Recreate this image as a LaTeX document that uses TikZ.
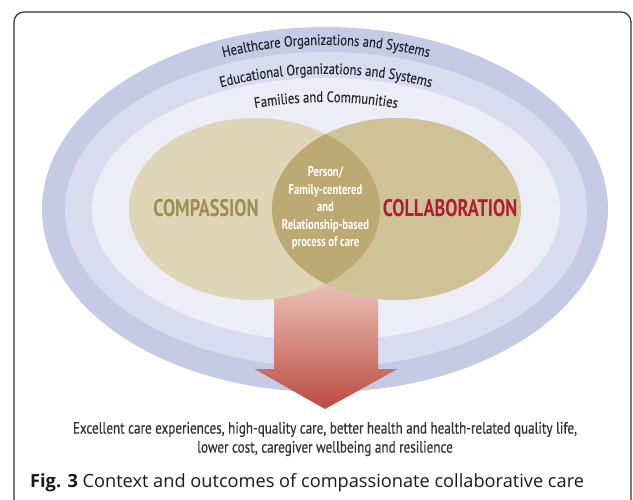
\documentclass[tikz,border=0pt]{standalone}
\usepackage{fontspec}
\setmainfont{Open Sans}
\newfontfamily\condfont[FakeStretch=0.76]{PT Sans}
\newfontfamily\ringfont[FakeStretch=0.84, FakeBold=0.4]{PT Sans}
\newfontfamily\outfont[FakeStretch=0.8, FakeBold=0.5]{PT Sans}
\usetikzlibrary{decorations.text}
\definecolor{bandouter}{RGB}{198,203,229}
\definecolor{bandmid}{RGB}{217,220,239}
\definecolor{bandinner}{RGB}{236,237,247}
\definecolor{compfill}{RGB}{223,214,183}
\definecolor{collfill}{RGB}{208,194,151}
\definecolor{lensfill}{RGB}{189,169,115}
\definecolor{comptext}{RGB}{160,140,79}
\definecolor{colltext}{RGB}{178,27,52}
\definecolor{arrowtop}{RGB}{242,214,204}
\definecolor{arrowbottom}{RGB}{188,74,64}
\definecolor{ringtext}{RGB}{40,40,52}
\definecolor{outtext}{RGB}{50,50,50}
\definecolor{framegray}{RGB}{50,50,50}

\begin{document}
\begin{tikzpicture}[x=1pt, y=-1pt,
		ringlabel/.style={decorate, decoration={text along path, text align=center, text color=ringtext}},
		biglabel/.style={font=\condfont\bfseries\fontsize{24}{24}\selectfont},
		corelabel/.style={font=\condfont\bfseries\fontsize{14}{17.5}\selectfont, text=white, align=center},
		outcome/.style={font=\outfont\fontsize{16.4}{19}\selectfont, text=outtext, align=center}
	]
	\useasboundingbox (0,0) rectangle (633,499);

	\begin{scope}
		\clip (0,0) rectangle (633,499);
		\draw[framegray, line width=1.2pt, rounded corners=10pt] (14,12) rectangle (631,530);
	\end{scope}

	% context rings
	\fill[bandouter] (325,209.5) ellipse [x radius=283, y radius=182.5];
	\fill[bandmid] (326,209.5) ellipse [x radius=261, y radius=157.5];
	\fill[bandinner] (326,209.5) ellipse [x radius=234, y radius=131.5];

	\path[ringlabel, decoration={text={|\ringfont\fontsize{15}{15}\selectfont|Healthcare Organizations and Systems}}]
		([shift={(200:271 and 164.5)}]326,209.5) arc [start angle=200, end angle=340, x radius=271, y radius=164.5];
	\path[ringlabel, decoration={text={|\ringfont\fontsize{15}{15}\selectfont|Educational Organizations and Systems}}]
		([shift={(200:242 and 135.5)}]326,209.5) arc [start angle=200, end angle=340, x radius=242, y radius=135.5];
	\path[ringlabel, decoration={text={|\ringfont\fontsize{15}{15}\selectfont|Families and Communities}}]
		([shift={(200:212 and 107.5)}]326,209.5) arc [start angle=200, end angle=340, x radius=212, y radius=107.5];

	% outcome arrow
	\shade[top color=arrowtop, bottom color=arrowbottom]
		(274,262) -- (378,262) -- (378,369) -- (397.5,369) -- (325,409)
		-- (254.5,369) -- (274,369) -- cycle;

	% two overlapping circles
	\fill[compfill] (254.5,209) ellipse [x radius=125.5, y radius=91];
	\fill[collfill] (396.5,209) ellipse [x radius=124.5, y radius=91];
	\begin{scope}
		\clip (254.5,209) ellipse [x radius=125.5, y radius=91];
		\fill[lensfill] (396.5,209) ellipse [x radius=124.5, y radius=91];
	\end{scope}

	\node[biglabel, text=comptext] (compassion) at (206,208) {COMPASSION};
	\node[biglabel, text=colltext] (collaboration) at (450,208) {COLLABORATION};
	\node[corelabel] (core) at (325.5,208) {Person/\\Family-centered\\and\\Relationship-based\\process of care};

	\node[outcome] (outcomes) at (325,439) {Excellent care experiences, high-quality care, better health and health-related quality life,\\lower cost, caregiver wellbeing and resilience};

	\node[anchor=west, font=\fontsize{18.2}{22}\selectfont, text=black!90, inner sep=0pt] (caption) at (30,483) {\textbf{Fig. 3} Context and outcomes of compassionate collaborative care};
\end{tikzpicture}
\end{document}
